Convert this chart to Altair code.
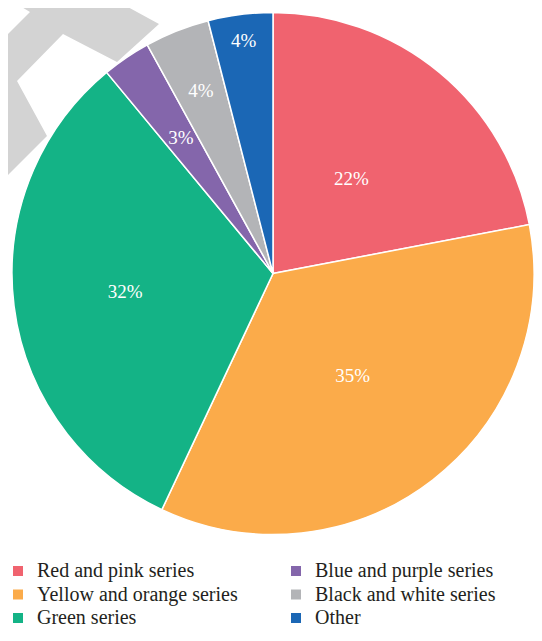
import altair as alt
import pandas as pd

categories = ["Red and pink series", "Yellow and orange series", "Green series",
              "Blue and purple series", "Black and white series", "Other"]
shares = [22, 35, 32, 3, 4, 4]
labels = ["22%", "35%", "32%", "3%", "4%", "4%"]
colors = ["#F0636F", "#FBAB4A", "#14B386", "#8466AB", "#B3B4B7", "#1B67B5"]

# layout: label distance from pie centre (px)
label_radius = [123, 130, 149, 164, 196, 234]

df = pd.DataFrame({
    "category": categories,
    "share": shares,
    "label": labels,
    "order": list(range(len(categories))),
    "lr": label_radius,
})

CX, CY, R = 265, 265.5, 261
FONT = "Liberation Serif"

# decorative grey watermark shape (style path, pixel units with size=4)
watermark_path = ("M -8 34 L 22 4 L 2 -8 L 107 -8 L 151 16 L 109 54 L 55 26 "
                  "L 9 73 L 39 128 L 0 167 L -8 157 Z")
watermark = alt.Chart(pd.DataFrame({"w": [0]})).mark_point(
    shape=watermark_path, size=4, filled=True, color="#D3D3D3",
    opacity=1, strokeWidth=0
).encode(x=alt.value(0), y=alt.value(0))

pie = alt.Chart(df).mark_arc(radius=R, stroke="white", strokeWidth=1.5).encode(
    theta=alt.Theta("share:Q", stack=True),
    order=alt.Order("order:Q"),
    x=alt.value(CX),
    y=alt.value(CY),
    color=alt.Color(
        "category:N",
        scale=alt.Scale(domain=categories, range=colors),
        sort=categories,
        legend=alt.Legend(
            title=None, orient="none", legendX=0, legendY=553,
            columns=2, columnPadding=48, rowPadding=3.5,
            symbolType="square", symbolSize=100, symbolStrokeWidth=0,
            labelFont=FONT, labelFontSize=20, labelColor="#231F20",
            labelOffset=9, labelLimit=400, padding=0,
        ),
    ),
)

text = alt.Chart(df).transform_window(
    cum="sum(share)", sort=[alt.SortField("order")]
).transform_joinaggregate(
    total="sum(share)"
).transform_calculate(
    ang="(datum.cum - datum.share / 2) / datum.total * 2 * PI"
).mark_text(font=FONT, fontSize=19, color="white",
            align="center", baseline="middle").encode(
    theta=alt.Theta("ang:Q", scale=None),
    radius=alt.Radius("lr:Q", scale=None),
    x=alt.value(CX),
    y=alt.value(CY),
    text="label:N",
)

chart = alt.layer(watermark, pie, text).properties(
    width=526, height=620, padding=0,
    autosize=alt.AutoSizeParams(type="none"),
).configure_view(stroke=None)

chart.save("out.html", embed_options={"renderer": "svg", "actions": False})
